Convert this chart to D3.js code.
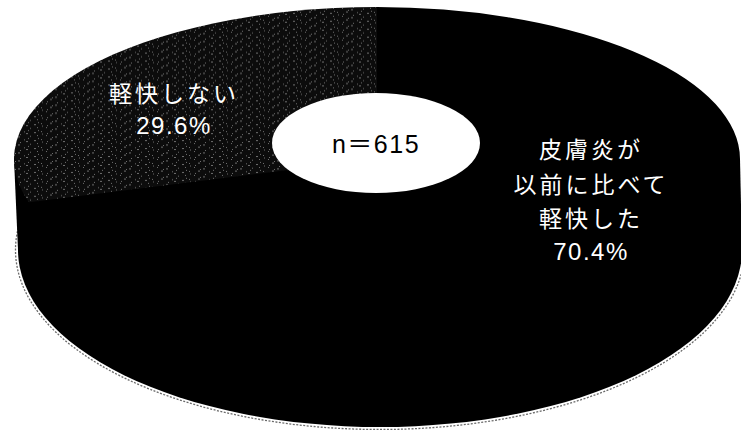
<!DOCTYPE html>
<html>
<head>
<meta charset="utf-8">
<script src="https://cdn.jsdelivr.net/npm/d3@7"></script>
<style>
  html, body { margin: 0; padding: 0; background: #fff; }
  svg { display: block; }
</style>
</head>
<body>
<svg id="chart" width="741" height="430"></svg>
<script>
// Survey result: change in dermatitis (n = 615)
const categories = ["皮膚炎が以前に比べて軽快した", "軽快しない"];
const values = [70.4, 29.6];
const labelLines = [["皮膚炎が", "以前に比べて", "軽快した"], ["軽快しない"]];
const sampleSize = 615;

const W = 741, H = 430;
const svg = d3.select("#chart");
svg.append("rect").attr("width", W).attr("height", H).attr("fill", "#fff");

// 3D pie geometry: top face ellipse and the rounder base outline
const topFace = { cx: 377, cy: 159, rx: 363, ry: 152 };
const baseFace = { cx: 380, cy: 250, rx: 362, ry: 177 };
const squash = topFace.ry / topFace.rx;

const defs = svg.append("defs");

// dithered dark-grey fill for the smaller slice
const tileW = 37, tileH = 19;
const dots = [
  [2, 1, 1], [11, 4, 2], [23, 2, 1], [31, 7, 1], [6, 9, 2], [17, 11, 1],
  [27, 13, 2], [35, 16, 1], [3, 15, 1], [13, 17, 1], [21, 7, 1], [8, 5, 1],
  [30, 1, 1], [19, 15, 2], [34, 10, 1]
];
const pat = defs.append("pattern")
  .attr("id", "speckle")
  .attr("patternUnits", "userSpaceOnUse")
  .attr("width", tileW).attr("height", tileH * squash)
  .attr("patternTransform", `scale(1, ${1 / squash})`);
pat.append("rect").attr("width", tileW).attr("height", tileH * squash).attr("fill", "#0c0c0c");
pat.selectAll("rect.dot")
  .data(dots)
  .join("rect")
  .attr("class", "dot")
  .attr("x", d => d[0])
  .attr("y", d => d[1] * squash)
  .attr("width", d => d[2])
  .attr("height", squash * 1.3)
  .attr("fill", "#f0f0f0")
  .attr("opacity", 0.8);

// speckled rim along the side wall
svg.append("ellipse")
  .attr("cx", baseFace.cx).attr("cy", baseFace.cy)
  .attr("rx", baseFace.rx + 2.5).attr("ry", baseFace.ry + 2.5)
  .attr("fill", "none")
  .attr("stroke", "#6a6a6a")
  .attr("stroke-width", 1.3)
  .attr("stroke-dasharray", "2 1.5");

// side wall: base outline plus the band joining it to the top face
svg.append("ellipse")
  .attr("cx", baseFace.cx).attr("cy", baseFace.cy)
  .attr("rx", baseFace.rx).attr("ry", baseFace.ry)
  .attr("fill", "#000");
svg.append("path")
  .attr("d", d3.line()([
    [topFace.cx - topFace.rx, topFace.cy], [topFace.cx + topFace.rx, topFace.cy],
    [baseFace.cx + baseFace.rx, baseFace.cy], [baseFace.cx - baseFace.rx, baseFace.cy]
  ]) + "Z")
  .attr("fill", "#000");

// top face slices
const pie = d3.pie().sort(null).startAngle(0).endAngle(2 * Math.PI);
const arcs = pie(values);
const arc = d3.arc().innerRadius(0).outerRadius(topFace.rx);
const fills = ["#000", "url(#speckle)"];

svg.append("g")
  .attr("transform", `translate(${topFace.cx},${topFace.cy}) scale(1,${squash})`)
  .selectAll("path")
  .data(arcs)
  .join("path")
  .attr("d", arc)
  .attr("fill", (d, i) => fills[i]);

// sample-size badge
svg.append("ellipse")
  .attr("cx", 376).attr("cy", 143)
  .attr("rx", 104).attr("ry", 50)
  .attr("fill", "#fff");
svg.append("text")
  .attr("x", 376).attr("y", 144)
  .attr("text-anchor", "middle")
  .attr("dominant-baseline", "central")
  .attr("font-family", "'Liberation Sans', Arial, 'Noto Sans CJK JP', sans-serif")
  .attr("font-size", 25)
  .attr("letter-spacing", 1.5)
  .attr("fill", "#000")
  .text(`n＝${sampleSize}`);

// slice labels
const labelPos = [
  { x: 591, y0: 148, step: 34.5 },
  { x: 174, y0: 92, step: 33 }
];
const cjkFont = "'Noto Sans CJK JP', 'Noto Sans', sans-serif";
const numFont = "'Liberation Sans', Arial, sans-serif";

arcs.forEach((a, i) => {
  const p = labelPos[i];
  const lines = labelLines[i];
  const g = svg.append("g").attr("fill", "#fff");
  lines.forEach((t, j) => {
    g.append("text")
      .attr("x", p.x).attr("y", p.y0 + j * p.step)
      .attr("text-anchor", "middle")
      .attr("dominant-baseline", "central")
      .attr("font-family", cjkFont)
      .attr("font-size", 23)
      .attr("letter-spacing", 3)
      .text(t);
  });
  g.append("text")
    .attr("x", p.x).attr("y", p.y0 + lines.length * p.step)
    .attr("text-anchor", "middle")
    .attr("dominant-baseline", "central")
    .attr("font-family", numFont)
    .attr("font-size", 24)
    .attr("letter-spacing", 1.5)
    .text(`${a.data.toFixed(1)}%`);
});
</script>
</body>
</html>
